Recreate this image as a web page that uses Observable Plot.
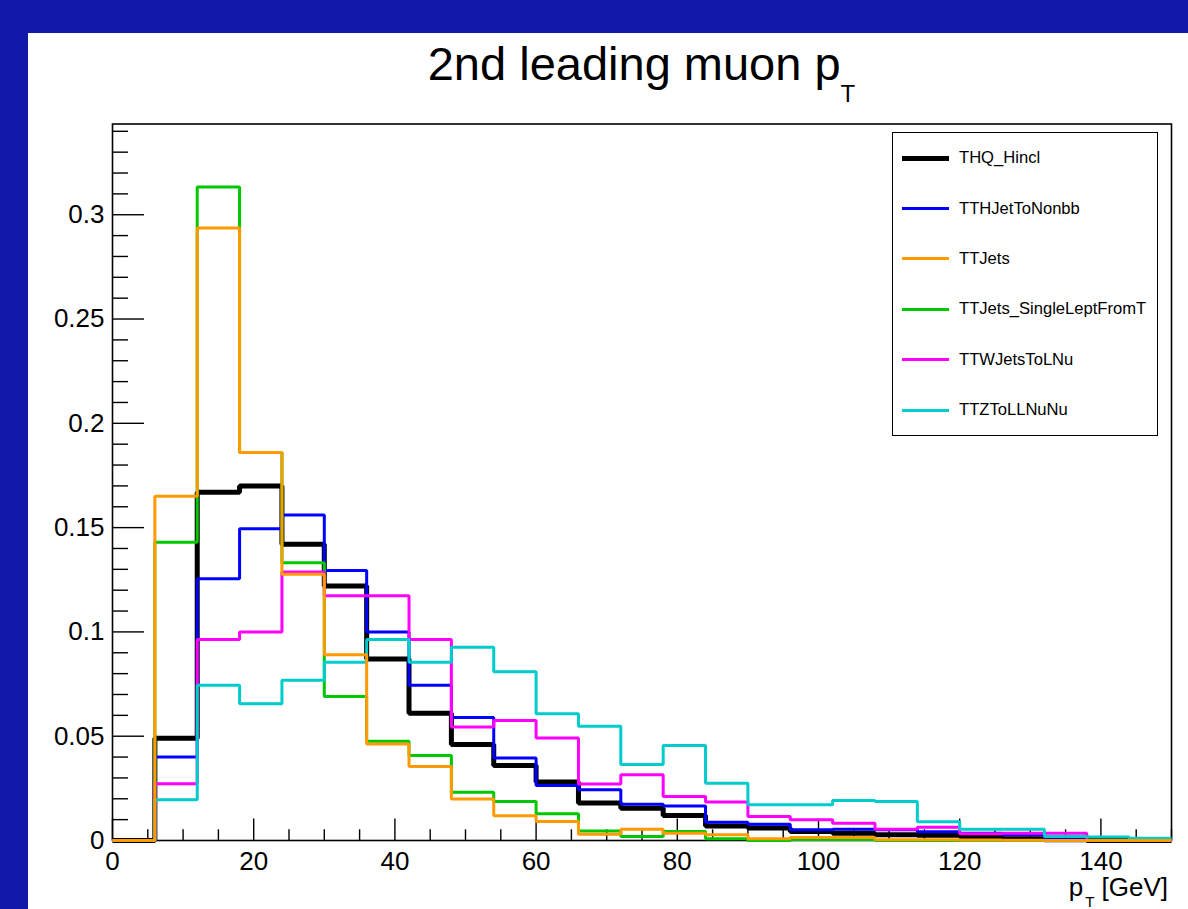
<!DOCTYPE html>
<html>
<head>
<meta charset="utf-8">
<script src="https://cdn.jsdelivr.net/npm/d3@7"></script>
<script src="https://cdn.jsdelivr.net/npm/@observablehq/plot@0.6"></script>
<style>
  html, body { margin: 0; padding: 0; width: 1188px; height: 909px; overflow: hidden; background: #1219a9;
    font-family: "Liberation Sans", Arial, Helvetica, sans-serif; }
  #panel { position: absolute; left: 28px; top: 33px; width: 1160px; height: 876px; background: #ffffff; overflow: hidden; }
  #chart { position: absolute; left: 0; top: 0; }
  #title { position: absolute; left: 84px; width: 1059px; top: 8px; text-align: center; font-size: 47px; line-height: 46px; color: #000; white-space: nowrap; }
  #xtitle { position: absolute; right: 20px; top: 841px; font-size: 26px; line-height: 26px; color: #000; white-space: nowrap; }
  .sub { position: relative; }
  #legend { position: absolute; left: 864px; top: 99px; width: 266px; height: 304px; box-sizing: border-box; border: 1.6px solid #000; background: #fff; }
  .row { position: relative; height: 50.4px; }
  .swatch { position: absolute; left: 9px; width: 47px; top: 50%; }
  .ltxt { position: absolute; left: 66px; top: 50%; transform: translateY(-50%); font-size: 16.6px; line-height: 18px; color: #000; white-space: nowrap; }
</style>
</head>
<body>
<div id="panel">
  <div id="chart"></div>
  <div id="title">2nd leading muon p<span class="sub" style="font-size:24px; top:22px;">T</span></div>
  <div id="xtitle">p<span class="sub" style="font-size:15px; top:11px; margin-left:2px;">T</span> [GeV]</div>
  <div id="legend"></div>
</div>
<script>
// ---- data: 25 bins of width 6 GeV from 0 to 150 ----
const binLow = [0, 6, 12, 18, 24, 30, 36, 42, 48, 54, 60, 66, 72, 78, 84, 90, 96, 102, 108, 114, 120, 126, 132, 138, 144];
const xUpper = 150;

const seriesNames = ["THQ_Hincl", "TTHJetToNonbb", "TTJets", "TTJets_SingleLeptFromT", "TTWJetsToLNu", "TTZToLLNuNu"];

const thqHincl = [0, 0.049, 0.167, 0.170, 0.142, 0.122, 0.087, 0.061, 0.046, 0.036, 0.028, 0.018, 0.0155, 0.012, 0.007, 0.006, 0.0043, 0.0035, 0.0027, 0.0025, 0.0019, 0.0008, 0.0003, 0, 0];
const tthJetToNonbb = [0, 0.040, 0.1255, 0.1495, 0.156, 0.1295, 0.100, 0.0744, 0.059, 0.0395, 0.0264, 0.0243, 0.0174, 0.0165, 0.0088, 0.0078, 0.0051, 0.0054, 0.0051, 0.0042, 0.0035, 0.0027, 0.0005, 0, 0];
const ttJets = [0, 0.165, 0.2936, 0.186, 0.1276, 0.089, 0.0463, 0.0355, 0.0199, 0.0119, 0.0091, 0.003, 0.0054, 0.0035, 0.0027, 0.0008, 0.0014, 0.0014, 0.0003, 0.0003, 0.0002, 0.0001, 0, 0, 0];
const ttJetsSingleLept = [0, 0.143, 0.3133, 0.186, 0.1332, 0.069, 0.0476, 0.0407, 0.0231, 0.0187, 0.0128, 0.0045, 0.0019, 0.0043, 0.0008, 0, 0.0005, 0.0005, 0, 0, 0, 0, 0, 0, 0];
const ttwJetsToLNu = [0, 0.0272, 0.0964, 0.0999, 0.1287, 0.1173, 0.1173, 0.0964, 0.0544, 0.0575, 0.0491, 0.0271, 0.0315, 0.0211, 0.0184, 0.0115, 0.0099, 0.0083, 0.0054, 0.0064, 0.0032, 0.0035, 0.0035, 0, 0];
const ttzToLLNuNu = [0, 0.0195, 0.0744, 0.0656, 0.0768, 0.0855, 0.0964, 0.0855, 0.0927, 0.0809, 0.0608, 0.0548, 0.0364, 0.0456, 0.0275, 0.0171, 0.0171, 0.0192, 0.0187, 0.009, 0.0054, 0.0054, 0.0019, 0.0017, 0.0011];

const seriesValues = [thqHincl, tthJetToNonbb, ttJets, ttJetsSingleLept, ttwJetsToLNu, ttzToLLNuNu];

// ticks
const xTickValues = [0, 20, 40, 60, 80, 100, 120, 140];
const xTickLabels = ["0", "20", "40", "60", "80", "100", "120", "140"];
const yTickValues = [0, 0.05, 0.1, 0.15, 0.2, 0.25, 0.3];
const yTickLabels = ["0", "0.05", "0.1", "0.15", "0.2", "0.25", "0.3"];

// ---- styles (kept separate from data) ----
const seriesColors = ["#000000", "#0000ff", "#ff9a00", "#00c800", "#ff00ff", "#00cccc"];
const seriesWidths = [5, 3, 3, 3, 3, 3];
const drawOrder = [0, 1, 3, 4, 5, 2];

const W = 1160, H = 876;
const mL = 84, mR = 17, mT = 90.5, mB = 69;
const frameW = W - mL - mR, frameH = H - mT - mB;

function stepPoints(vals, name) {
  const pts = binLow.map((x, i) => ({x, y: vals[i], s: name}));
  pts.push({x: xUpper, y: vals[vals.length - 1], s: name});
  return pts;
}

const xMinor = d3.range(0, 150.1, 5).filter(v => v % 20 !== 0);
const yMinor = d3.range(0, 0.3405, 0.01).map(v => +v.toFixed(2)).filter(v => Math.abs(v / 0.05 - Math.round(v / 0.05)) > 1e-6);

const marks = [
  Plot.frame({stroke: "#000", strokeWidth: 1.6}),
  Plot.tickY(yTickValues, {y: d => d, stroke: "#000", strokeWidth: 1.4, insetRight: frameW - 32}),
  Plot.tickY(yMinor, {y: d => d, stroke: "#000", strokeWidth: 1.4, insetRight: frameW - 16}),
  Plot.tickX(xTickValues, {x: d => d, stroke: "#000", strokeWidth: 1.4, insetTop: frameH - 21.5}),
  Plot.tickX(xMinor, {x: d => d, stroke: "#000", strokeWidth: 1.4, insetTop: frameH - 10.7}),
  Plot.axisX(xTickValues, {tickSize: 0, tickPadding: 11, label: null, tickFormat: d => xTickLabels[xTickValues.indexOf(d)], fontSize: 26}),
  Plot.axisY(yTickValues, {tickSize: 0, tickPadding: 8, label: null, tickFormat: d => yTickLabels[yTickValues.indexOf(d)], fontSize: 26})
];
for (const k of drawOrder) {
  marks.push(Plot.line(stepPoints(seriesValues[k], seriesNames[k]), {
    x: "x", y: "y", curve: "step-after", stroke: seriesColors[k], strokeWidth: seriesWidths[k],
    strokeLinejoin: "miter", strokeLinecap: "butt"
  }));
}

const chart = Plot.plot({
  width: W, height: H,
  marginLeft: mL, marginRight: mR, marginTop: mT, marginBottom: mB,
  x: {domain: [0, 150], label: null},
  y: {domain: [0, 0.3435], label: null},
  style: {background: "transparent", fontFamily: "'Liberation Sans', Arial, Helvetica, sans-serif", fontSize: "26px", color: "#000", overflow: "visible"},
  marks
});
document.getElementById("chart").appendChild(chart);

// legend
const legend = document.getElementById("legend");
seriesNames.forEach((name, i) => {
  const row = document.createElement("div");
  row.className = "row";
  const sw = document.createElement("div");
  sw.className = "swatch";
  sw.style.height = seriesWidths[i] + "px";
  sw.style.marginTop = (-seriesWidths[i] / 2) + "px";
  sw.style.background = seriesColors[i];
  const t = document.createElement("div");
  t.className = "ltxt";
  t.textContent = name;
  row.appendChild(sw);
  row.appendChild(t);
  legend.appendChild(row);
});
</script>
</body>
</html>
